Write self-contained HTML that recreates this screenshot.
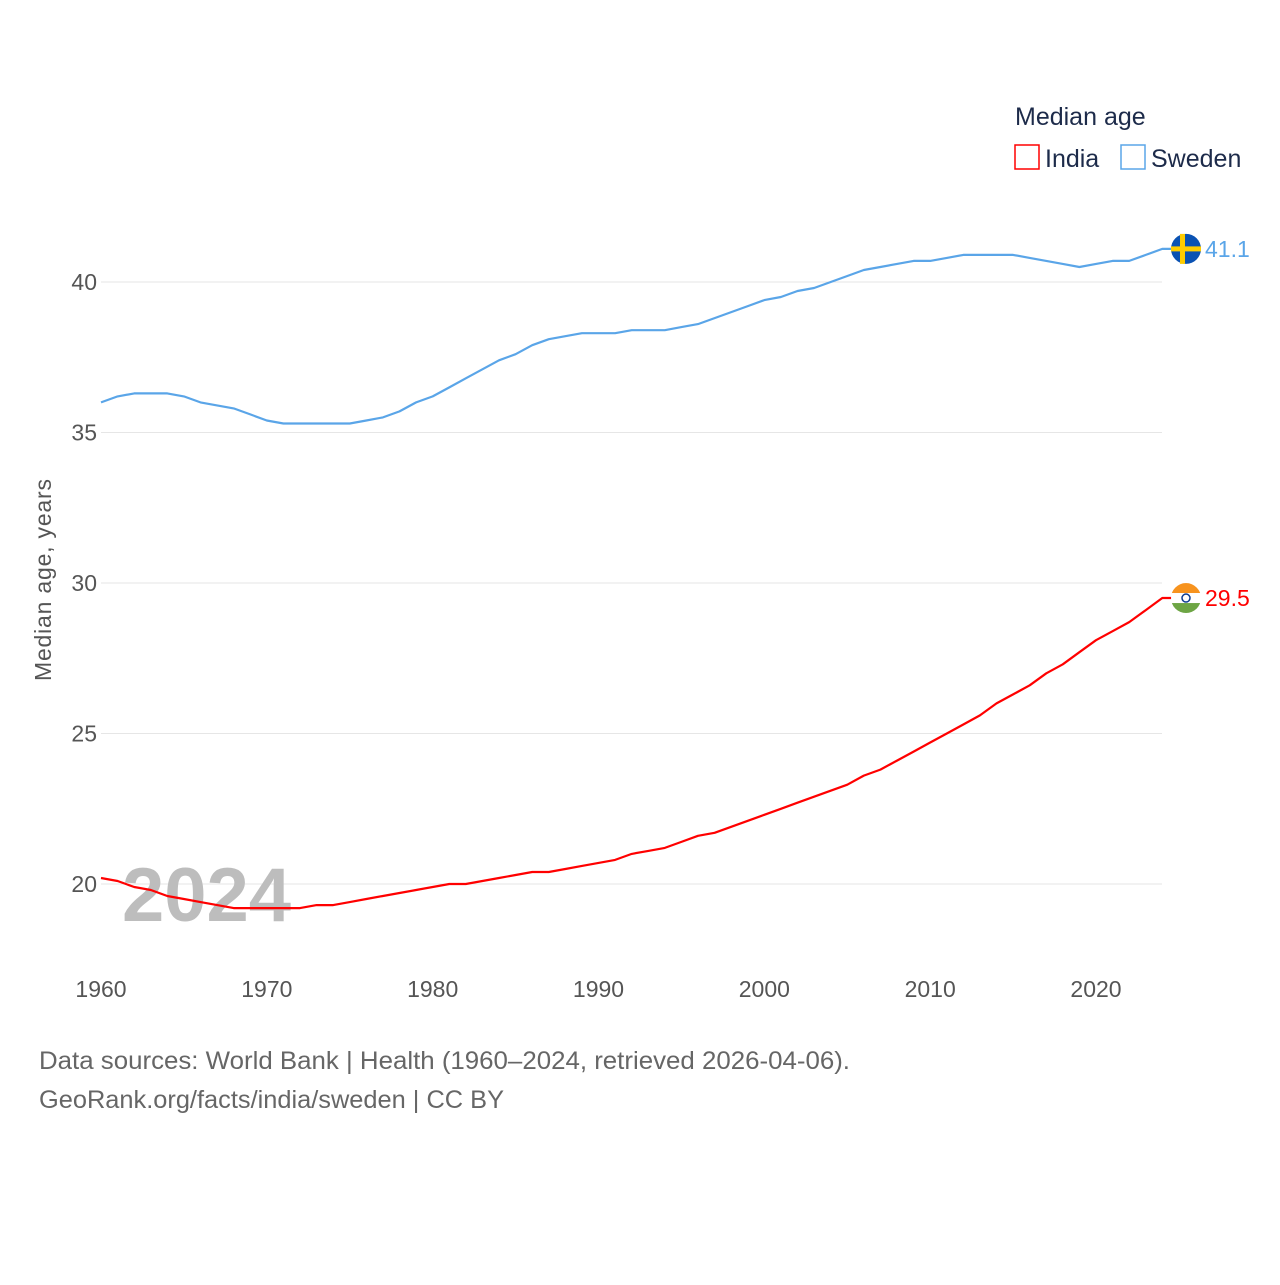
<!DOCTYPE html>
<html><head><meta charset="utf-8"><style>
body{margin:0;background:#fff;font-family:"Liberation Sans",sans-serif}
svg text{font-family:"Liberation Sans",sans-serif}
</style></head><body>
<svg id="chart" width="1280" height="1280" viewBox="0 0 1280 1280">
<g id="grid"></g><g id="xticks"></g>
<text x="122" y="921" font-size="76" font-weight="bold" fill="#bdbdbd">2024</text>
<g id="lines"></g>
<text transform="translate(51,580) rotate(-90)" text-anchor="middle" font-size="23" fill="#555" textLength="202">Median age, years</text>
<g>
<text x="1015" y="125" font-size="25" fill="#1d2b4a">Median age</text>
<g><rect x="1015" y="145" width="24" height="24" fill="none" stroke="#f00" stroke-width="1.5"/><text x="1045" y="167" font-size="25" fill="#1d2b4a">India</text></g>
<g><rect x="1121" y="145" width="24" height="24" fill="none" stroke="#5aa5e8" stroke-width="1.5"/><text x="1151" y="167" font-size="25" fill="#1d2b4a">Sweden</text></g>
</g>
<text x="39" y="1069" font-size="25" fill="#666" textLength="811" lengthAdjust="spacingAndGlyphs">Data sources: World Bank | Health (1960–2024, retrieved 2026-04-06).</text>
<text x="39" y="1108" font-size="25" fill="#666" textLength="465" lengthAdjust="spacingAndGlyphs">GeoRank.org/facts/india/sweden | CC BY</text>
</svg>
<script>
const years=[];for(let y=1960;y<=2024;y++)years.push(y);
const india=[20.2,20.1,19.9,19.8,19.6,19.5,19.4,19.3,19.2,19.2,19.2,19.2,19.2,19.3,19.3,19.4,19.5,19.6,19.7,19.8,19.9,20.0,20.0,20.1,20.2,20.3,20.4,20.4,20.5,20.6,20.7,20.8,21.0,21.1,21.2,21.4,21.6,21.7,21.9,22.1,22.3,22.5,22.7,22.9,23.1,23.3,23.6,23.8,24.1,24.4,24.7,25.0,25.3,25.6,26.0,26.3,26.6,27.0,27.3,27.7,28.1,28.4,28.7,29.1,29.5];
const sweden=[36.0,36.2,36.3,36.3,36.3,36.2,36.0,35.9,35.8,35.6,35.4,35.3,35.3,35.3,35.3,35.3,35.4,35.5,35.7,36.0,36.2,36.5,36.8,37.1,37.4,37.6,37.9,38.1,38.2,38.3,38.3,38.3,38.4,38.4,38.4,38.5,38.6,38.8,39.0,39.2,39.4,39.5,39.7,39.8,40.0,40.2,40.4,40.5,40.6,40.7,40.7,40.8,40.9,40.9,40.9,40.9,40.8,40.7,40.6,40.5,40.6,40.7,40.7,40.9,41.1];
const yTicks=[20,25,30,35,40];
const xTicks=[1960,1970,1980,1990,2000,2010,2020];
const NS='http://www.w3.org/2000/svg';
const X=y=>101+(y-1960)*(1096-101)/60;
const Y=v=>884-(v-20)*(884-282)/20;
function el(t,a,p){const e=document.createElementNS(NS,t);for(const k in a)e.setAttribute(k,a[k]);p.appendChild(e);return e;}
const grid=document.getElementById('grid');
yTicks.forEach(v=>{
 const l=el('line',{x1:101,x2:1162,y1:Y(v),y2:Y(v),stroke:'#e6e6e6','stroke-width':1},grid);
 
 
 const t=el('text',{x:97,y:Y(v)+8,'text-anchor':'end','font-size':23,fill:'#555'},grid);t.textContent=v;
 
 
});
const xt=document.getElementById('xticks');
xTicks.forEach(v=>{
 const t=el('text',{x:X(v),y:997,'text-anchor':'middle','font-size':23,fill:'#555'},xt);t.textContent=v;
 
 
});
const lines=document.getElementById('lines');
function series(vals,color,name,flag){
 let d=vals.map((v,i)=>(i?'L':'M')+X(years[i]).toFixed(1)+','+Y(v).toFixed(1)).join(' ');
 const last=vals[vals.length-1];
 d+=' L'+(X(2024)+10)+','+Y(last).toFixed(1);
 const p=el('path',{d:d,fill:'none',stroke:color,'stroke-width':2.2,'stroke-linejoin':'round'},lines);
 
 
 const cx=1186,cy=Y(last);
 const g=el('g',{},lines);
 
 
 flag(g,cx,cy);
 const t=el('text',{x:1205,y:cy+8,'font-size':23,fill:color},lines);t.textContent=last.toFixed(1);
 
 
}
series(sweden,'#5aa5e8','sweden',(g,cx,cy)=>{
 el('circle',{cx:cx,cy:cy,r:15,fill:'#0a52b3'},g);
 el('rect',{x:cx-15,y:cy-2.5,width:30,height:5,fill:'#fecc00'},g);
 el('rect',{x:cx-6,y:cy-15,width:5,height:30,fill:'#fecc00'},g);
});
series(india,'#f00','india',(g,cx,cy)=>{
 const cp=el('clipPath',{id:'ic'},g);
 el('circle',{cx:cx,cy:cy,r:15},cp);
 el('rect',{x:cx-15,y:cy-15,width:30,height:10,fill:'#f7931e','clip-path':'url(#ic)'},g);
 el('rect',{x:cx-15,y:cy-5,width:30,height:10,fill:'#fff','clip-path':'url(#ic)'},g);
 el('rect',{x:cx-15,y:cy+5,width:30,height:10,fill:'#6da544','clip-path':'url(#ic)'},g);
 el('circle',{cx:cx,cy:cy,r:4,fill:'none',stroke:'#0a3a8f','stroke-width':1.5},g);
});
</script>
</body></html>
